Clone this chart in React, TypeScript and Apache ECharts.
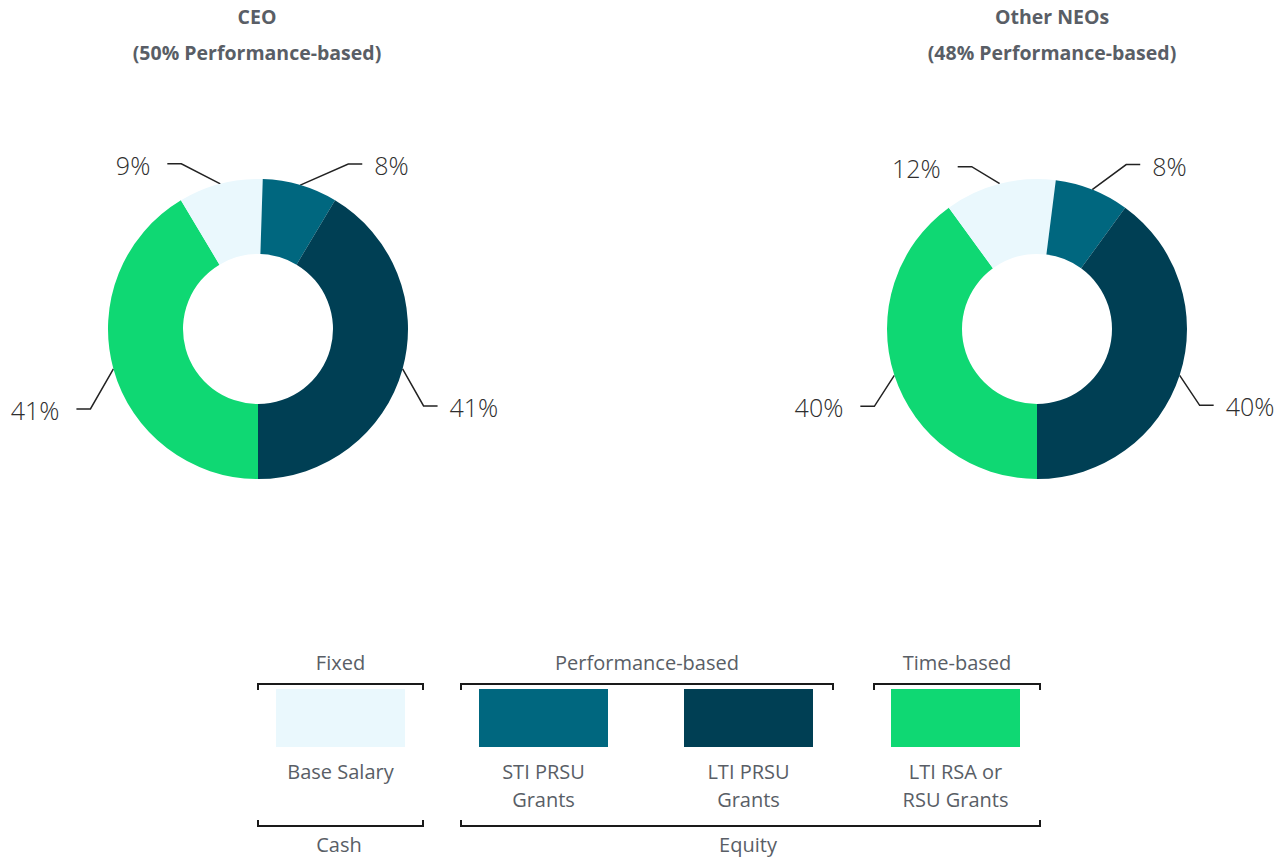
import React, { useEffect, useRef } from 'react';
import * as echarts from 'echarts';

// ---- data ----
const categories = ['Base Salary', 'STI PRSU Grants', 'LTI PRSU Grants', 'LTI RSA or RSU Grants'];
const ceoValues = [9, 8, 41, 41];
const neoValues = [12, 8, 40, 40];
const chartTitles = ['CEO', 'Other NEOs'];
const chartSubtitles = ['(50% Performance-based)', '(48% Performance-based)'];
const legendLabels = ['Base Salary', 'STI PRSU\nGrants', 'LTI PRSU\nGrants', 'LTI RSA or\nRSU Grants'];
const topGroups = ['Fixed', 'Performance-based', 'Time-based'];
const bottomGroups = ['Cash', 'Equity'];

// ---- styles ----
const colors = ['#EAF8FD', '#00677F', '#003F54', '#0FD873'];
// drawing order clockwise starting from the bottom: RSA, Base, STI, LTI PRSU
const drawOrder = [3, 0, 1, 2];
// leader-line elbow offsets per category (Base, STI, LTI PRSU, RSA)
const elbowsCeo = [[-39, -20], [48, -21], [21, 37], [-23, 40]];
const elbowsNeo = [[-28, -17], [34, -25], [20, 30], [-20, 31]];
const pieCenters = [[258, 329], [1037, 329]];
const titleX = [257, 1052];

const FONT = "'Open Sans', 'Noto Sans', sans-serif";
const GREY = '#595E66';

function makePie(values: number[], idx: number, elbows: number[][]) {
  return {
    type: 'pie',
    center: pieCenters[idx],
    radius: [75, 150],
    startAngle: 270,
    clockwise: true,
    silent: true,
    avoidLabelOverlap: false,
    data: drawOrder.map((i) => ({
      name: categories[i],
      value: values[i],
      itemStyle: { color: colors[i] },
    })),
    itemStyle: { borderWidth: 0 },
    label: {
      show: true,
      position: 'outside',
      formatter: '{c}%',
      fontFamily: FONT,
      fontSize: 25,
      fontWeight: 300,
      color: '#2e2e2e',
    },
    labelLine: {
      show: true,
      length: 20,
      length2: 14,
      lineStyle: { color: '#222222', width: 1.5 },
    },
    labelLayout: (params: any) => {
      const pts = params.labelLinePoints;
      if (!pts || !pts[0]) return {};
      const [x0, y0] = pts[0];
      const e = elbows[drawOrder[params.dataIndex]];
      const x1 = x0 + e[0];
      const y1 = y0 + e[1];
      const dir = e[0] >= 0 ? 1 : -1;
      const x2 = x1 + dir * 14;
      return {
        x: x2 + (dir > 0 ? 12 : -17),
        y: y1 + 1,
        align: dir > 0 ? 'left' : 'right',
        verticalAlign: 'middle',
        labelLinePoints: [[x0, y0], [x1, y1], [x2, y1]],
      };
    },
    emphasis: { disabled: true },
  };
}

export default function App() {
  const ref = useRef<HTMLDivElement>(null);
  useEffect(() => {
    if (!ref.current) return;
    const chart = echarts.init(ref.current, undefined, { renderer: 'svg' });

    const graphics: any[] = [];
    // titles
    chartTitles.forEach((t, i) => {
      graphics.push({
        type: 'text', x: titleX[i], y: 16,
        style: { text: t, font: `bold 19.5px ${FONT}`, fill: GREY, align: 'center', verticalAlign: 'middle' },
      });
      graphics.push({
        type: 'text', x: titleX[i], y: 52,
        style: { text: chartSubtitles[i], font: `bold 19.5px ${FONT}`, fill: GREY, align: 'center', verticalAlign: 'middle' },
      });
    });

    // legend swatches
    const swatchX = [276, 479, 684, 891];
    const swatchW = 129;
    swatchX.forEach((x, i) => {
      graphics.push({
        type: 'rect', shape: { x, y: 689, width: swatchW, height: 58 },
        style: { fill: colors[i] },
      });
      graphics.push({
        type: 'text', x: x + swatchW / 2, y: 757,
        style: { text: legendLabels[i], font: `20px ${FONT}`, fill: GREY, align: 'center', verticalAlign: 'top', lineHeight: 28 },
      });
    });

    // top brackets
    const topSpans = [[258, 423], [461, 833], [874, 1040]];
    topSpans.forEach(([a, b], i) => {
      graphics.push({
        type: 'polyline', shape: { points: [[a, 690], [a, 684], [b, 684], [b, 690]] },
        style: { stroke: '#1a1a1a', lineWidth: 2, fill: 'none' },
      });
      graphics.push({
        type: 'text', x: (a + b) / 2, y: 662,
        style: { text: topGroups[i], font: `20px ${FONT}`, fill: GREY, align: 'center', verticalAlign: 'middle' },
      });
    });

    // bottom brackets
    const bottomSpans = [[258, 423], [461, 1040]];
    const bottomTextX = [339, 748];
    bottomSpans.forEach(([a, b], i) => {
      graphics.push({
        type: 'polyline', shape: { points: [[a, 820], [a, 826], [b, 826], [b, 820]] },
        style: { stroke: '#1a1a1a', lineWidth: 2, fill: 'none' },
      });
      graphics.push({
        type: 'text', x: bottomTextX[i], y: 844,
        style: { text: bottomGroups[i], font: `20px ${FONT}`, fill: GREY, align: 'center', verticalAlign: 'middle' },
      });
    });

    chart.setOption({
      animation: false,
      backgroundColor: '#ffffff',
      series: [makePie(ceoValues, 0, elbowsCeo), makePie(neoValues, 1, elbowsNeo)],
      graphic: graphics,
    });
    return () => chart.dispose();
  }, []);

  return (
    <div
      ref={ref}
      style={{ position: 'fixed', left: 0, top: 0, width: 1288, height: 859, background: '#fff' }}
    />
  );
}
